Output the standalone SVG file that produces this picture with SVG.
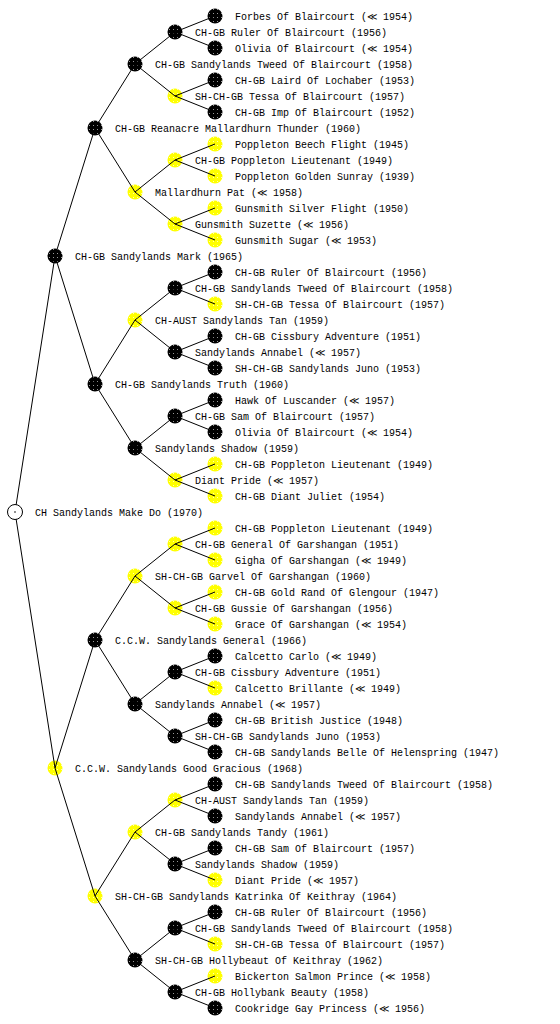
<svg xmlns="http://www.w3.org/2000/svg" width="560" height="1024" viewBox="0 0 560 1024">
<defs>
<pattern id="pb" width="4" height="4" patternUnits="userSpaceOnUse"><rect width="4" height="4" fill="#000"/><rect x="1" y="1" width="1" height="1" fill="#999"/></pattern>
<pattern id="py" width="4" height="4" patternUnits="userSpaceOnUse"><rect width="4" height="4" fill="#ffff00"/><rect x="1" y="1" width="1" height="1" fill="#ffffb0"/></pattern>
</defs>
<style>
text{font-family:"Liberation Mono","DejaVu Sans Mono",monospace;font-size:10px;fill:#000}
.b{fill:url(#pb)}
.y{fill:url(#py)}
.r{fill:#fff;stroke:#000;stroke-width:1}
.e{fill:none;stroke:#000;stroke-width:1}
</style>
<rect width="560" height="1024" fill="#fff"/>
<g id="nodes">
<g id="g1a"><circle class="b" cx="55" cy="256" r="7.5"/><text x="75" y="260">CH-GB Sandylands Mark (1965)</text></g>
<g id="g1b"><circle class="y" cx="55" cy="768" r="7.5"/><text x="75" y="772">C.C.W. Sandylands Good Gracious (1968)</text></g>
<g id="g2a"><circle class="b" cx="95" cy="128" r="7.5"/><text x="115" y="132">CH-GB Reanacre Mallardhurn Thunder (1960)</text></g>
<g id="g2b"><circle class="b" cx="95" cy="384" r="7.5"/><text x="115" y="388">CH-GB Sandylands Truth (1960)</text></g>
<g id="g2c"><circle class="b" cx="95" cy="640" r="7.5"/><text x="115" y="644">C.C.W. Sandylands General (1966)</text></g>
<g id="g2d"><circle class="y" cx="95" cy="896" r="7.5"/><text x="115" y="900">SH-CH-GB Sandylands Katrinka Of Keithray (1964)</text></g>
<g id="g3a"><circle class="b" cx="135" cy="64" r="7.5"/><text x="155" y="68">CH-GB Sandylands Tweed Of Blaircourt (1958)</text></g>
<g id="g3b"><circle class="y" cx="135" cy="192" r="7.5"/><text x="155" y="196">Mallardhurn Pat (≪ 1958)</text></g>
<g id="g3c"><circle class="y" cx="135" cy="320" r="7.5"/><text x="155" y="324">CH-AUST Sandylands Tan (1959)</text></g>
<g id="g3d"><circle class="b" cx="135" cy="448" r="7.5"/><text x="155" y="452">Sandylands Shadow (1959)</text></g>
<g id="g3e"><circle class="y" cx="135" cy="576" r="7.5"/><text x="155" y="580">SH-CH-GB Garvel Of Garshangan (1960)</text></g>
<g id="g3f"><circle class="b" cx="135" cy="704" r="7.5"/><text x="155" y="708">Sandylands Annabel (≪ 1957)</text></g>
<g id="g3g"><circle class="y" cx="135" cy="832" r="7.5"/><text x="155" y="836">CH-GB Sandylands Tandy (1961)</text></g>
<g id="g3h"><circle class="b" cx="135" cy="960" r="7.5"/><text x="155" y="964">SH-CH-GB Hollybeaut Of Keithray (1962)</text></g>
<g id="g4a"><circle class="b" cx="175" cy="32" r="7.5"/><text x="195" y="36">CH-GB Ruler Of Blaircourt (1956)</text></g>
<g id="g4b"><circle class="y" cx="175" cy="96" r="7.5"/><text x="195" y="100">SH-CH-GB Tessa Of Blaircourt (1957)</text></g>
<g id="g4c"><circle class="y" cx="175" cy="160" r="7.5"/><text x="195" y="164">CH-GB Poppleton Lieutenant (1949)</text></g>
<g id="g4d"><circle class="y" cx="175" cy="224" r="7.5"/><text x="195" y="228">Gunsmith Suzette (≪ 1956)</text></g>
<g id="g4e"><circle class="b" cx="175" cy="288" r="7.5"/><text x="195" y="292">CH-GB Sandylands Tweed Of Blaircourt (1958)</text></g>
<g id="g4f"><circle class="b" cx="175" cy="352" r="7.5"/><text x="195" y="356">Sandylands Annabel (≪ 1957)</text></g>
<g id="g4g"><circle class="b" cx="175" cy="416" r="7.5"/><text x="195" y="420">CH-GB Sam Of Blaircourt (1957)</text></g>
<g id="g4h"><circle class="y" cx="175" cy="480" r="7.5"/><text x="195" y="484">Diant Pride (≪ 1957)</text></g>
<g id="g4i"><circle class="y" cx="175" cy="544" r="7.5"/><text x="195" y="548">CH-GB General Of Garshangan (1951)</text></g>
<g id="g4j"><circle class="y" cx="175" cy="608" r="7.5"/><text x="195" y="612">CH-GB Gussie Of Garshangan (1956)</text></g>
<g id="g4k"><circle class="b" cx="175" cy="672" r="7.5"/><text x="195" y="676">CH-GB Cissbury Adventure (1951)</text></g>
<g id="g4l"><circle class="b" cx="175" cy="736" r="7.5"/><text x="195" y="740">SH-CH-GB Sandylands Juno (1953)</text></g>
<g id="g4m"><circle class="y" cx="175" cy="800" r="7.5"/><text x="195" y="804">CH-AUST Sandylands Tan (1959)</text></g>
<g id="g4n"><circle class="b" cx="175" cy="864" r="7.5"/><text x="195" y="868">Sandylands Shadow (1959)</text></g>
<g id="g4o"><circle class="b" cx="175" cy="928" r="7.5"/><text x="195" y="932">CH-GB Sandylands Tweed Of Blaircourt (1958)</text></g>
<g id="g4p"><circle class="b" cx="175" cy="992" r="7.5"/><text x="195" y="996">CH-GB Hollybank Beauty (1958)</text></g>
<g id="g5-01"><circle class="b" cx="215" cy="16" r="7.5"/><text x="235" y="20">Forbes Of Blaircourt (≪ 1954)</text></g>
<g id="g5-02"><circle class="b" cx="215" cy="48" r="7.5"/><text x="235" y="52">Olivia Of Blaircourt (≪ 1954)</text></g>
<g id="g5-03"><circle class="b" cx="215" cy="80" r="7.5"/><text x="235" y="84">CH-GB Laird Of Lochaber (1953)</text></g>
<g id="g5-04"><circle class="b" cx="215" cy="112" r="7.5"/><text x="235" y="116">CH-GB Imp Of Blaircourt (1952)</text></g>
<g id="g5-05"><circle class="y" cx="215" cy="144" r="7.5"/><text x="235" y="148">Poppleton Beech Flight (1945)</text></g>
<g id="g5-06"><circle class="y" cx="215" cy="176" r="7.5"/><text x="235" y="180">Poppleton Golden Sunray (1939)</text></g>
<g id="g5-07"><circle class="y" cx="215" cy="208" r="7.5"/><text x="235" y="212">Gunsmith Silver Flight (1950)</text></g>
<g id="g5-08"><circle class="y" cx="215" cy="240" r="7.5"/><text x="235" y="244">Gunsmith Sugar (≪ 1953)</text></g>
<g id="g5-09"><circle class="b" cx="215" cy="272" r="7.5"/><text x="235" y="276">CH-GB Ruler Of Blaircourt (1956)</text></g>
<g id="g5-10"><circle class="y" cx="215" cy="304" r="7.5"/><text x="235" y="308">SH-CH-GB Tessa Of Blaircourt (1957)</text></g>
<g id="g5-11"><circle class="b" cx="215" cy="336" r="7.5"/><text x="235" y="340">CH-GB Cissbury Adventure (1951)</text></g>
<g id="g5-12"><circle class="b" cx="215" cy="368" r="7.5"/><text x="235" y="372">SH-CH-GB Sandylands Juno (1953)</text></g>
<g id="g5-13"><circle class="b" cx="215" cy="400" r="7.5"/><text x="235" y="404">Hawk Of Luscander (≪ 1957)</text></g>
<g id="g5-14"><circle class="b" cx="215" cy="432" r="7.5"/><text x="235" y="436">Olivia Of Blaircourt (≪ 1954)</text></g>
<g id="g5-15"><circle class="y" cx="215" cy="464" r="7.5"/><text x="235" y="468">CH-GB Poppleton Lieutenant (1949)</text></g>
<g id="g5-16"><circle class="y" cx="215" cy="496" r="7.5"/><text x="235" y="500">CH-GB Diant Juliet (1954)</text></g>
<g id="g5-17"><circle class="y" cx="215" cy="528" r="7.5"/><text x="235" y="532">CH-GB Poppleton Lieutenant (1949)</text></g>
<g id="g5-18"><circle class="y" cx="215" cy="560" r="7.5"/><text x="235" y="564">Gigha Of Garshangan (≪ 1949)</text></g>
<g id="g5-19"><circle class="y" cx="215" cy="592" r="7.5"/><text x="235" y="596">CH-GB Gold Rand Of Glengour (1947)</text></g>
<g id="g5-20"><circle class="y" cx="215" cy="624" r="7.5"/><text x="235" y="628">Grace Of Garshangan (≪ 1954)</text></g>
<g id="g5-21"><circle class="b" cx="215" cy="656" r="7.5"/><text x="235" y="660">Calcetto Carlo (≪ 1949)</text></g>
<g id="g5-22"><circle class="y" cx="215" cy="688" r="7.5"/><text x="235" y="692">Calcetto Brillante (≪ 1949)</text></g>
<g id="g5-23"><circle class="b" cx="215" cy="720" r="7.5"/><text x="235" y="724">CH-GB British Justice (1948)</text></g>
<g id="g5-24"><circle class="b" cx="215" cy="752" r="7.5"/><text x="235" y="756">CH-GB Sandylands Belle Of Helenspring (1947)</text></g>
<g id="g5-25"><circle class="b" cx="215" cy="784" r="7.5"/><text x="235" y="788">CH-GB Sandylands Tweed Of Blaircourt (1958)</text></g>
<g id="g5-26"><circle class="b" cx="215" cy="816" r="7.5"/><text x="235" y="820">Sandylands Annabel (≪ 1957)</text></g>
<g id="g5-27"><circle class="b" cx="215" cy="848" r="7.5"/><text x="235" y="852">CH-GB Sam Of Blaircourt (1957)</text></g>
<g id="g5-28"><circle class="y" cx="215" cy="880" r="7.5"/><text x="235" y="884">Diant Pride (≪ 1957)</text></g>
<g id="g5-29"><circle class="b" cx="215" cy="912" r="7.5"/><text x="235" y="916">CH-GB Ruler Of Blaircourt (1956)</text></g>
<g id="g5-30"><circle class="y" cx="215" cy="944" r="7.5"/><text x="235" y="948">SH-CH-GB Tessa Of Blaircourt (1957)</text></g>
<g id="g5-31"><circle class="y" cx="215" cy="976" r="7.5"/><text x="235" y="980">Bickerton Salmon Prince (≪ 1958)</text></g>
<g id="g5-32"><circle class="b" cx="215" cy="1008" r="7.5"/><text x="235" y="1012">Cookridge Gay Princess (≪ 1956)</text></g>
</g>
<g id="connectors">
<path class="e" d="M15 512L55 256M15 512L55 768M55 256L95 128M55 256L95 384M55 768L95 640M55 768L95 896"/>
<path class="e" d="M95 128L135 64M95 128L135 192M95 384L135 320M95 384L135 448M95 640L135 576M95 640L135 704M95 896L135 832M95 896L135 960"/>
<path class="e" d="M135 64L175 32M135 64L175 96M135 192L175 160M135 192L175 224M135 320L175 288M135 320L175 352M135 448L175 416M135 448L175 480M135 576L175 544M135 576L175 608M135 704L175 672M135 704L175 736M135 832L175 800M135 832L175 864M135 960L175 928M135 960L175 992"/>
<path class="e" d="M175 32L215 16M175 32L215 48M175 96L215 80M175 96L215 112M175 160L215 144M175 160L215 176M175 224L215 208M175 224L215 240M175 288L215 272M175 288L215 304M175 352L215 336M175 352L215 368M175 416L215 400M175 416L215 432M175 480L215 464M175 480L215 496M175 544L215 528M175 544L215 560M175 608L215 592M175 608L215 624M175 672L215 656M175 672L215 688M175 736L215 720M175 736L215 752M175 800L215 784M175 800L215 816M175 864L215 848M175 864L215 880M175 928L215 912M175 928L215 944M175 992L215 976M175 992L215 1008"/>
</g>
<g id="root"><circle class="r" cx="15" cy="512" r="7.5"/><circle cx="15" cy="512" r="0.8" fill="#000"/><text x="35" y="516">CH Sandylands Make Do (1970)</text></g>
</svg>
